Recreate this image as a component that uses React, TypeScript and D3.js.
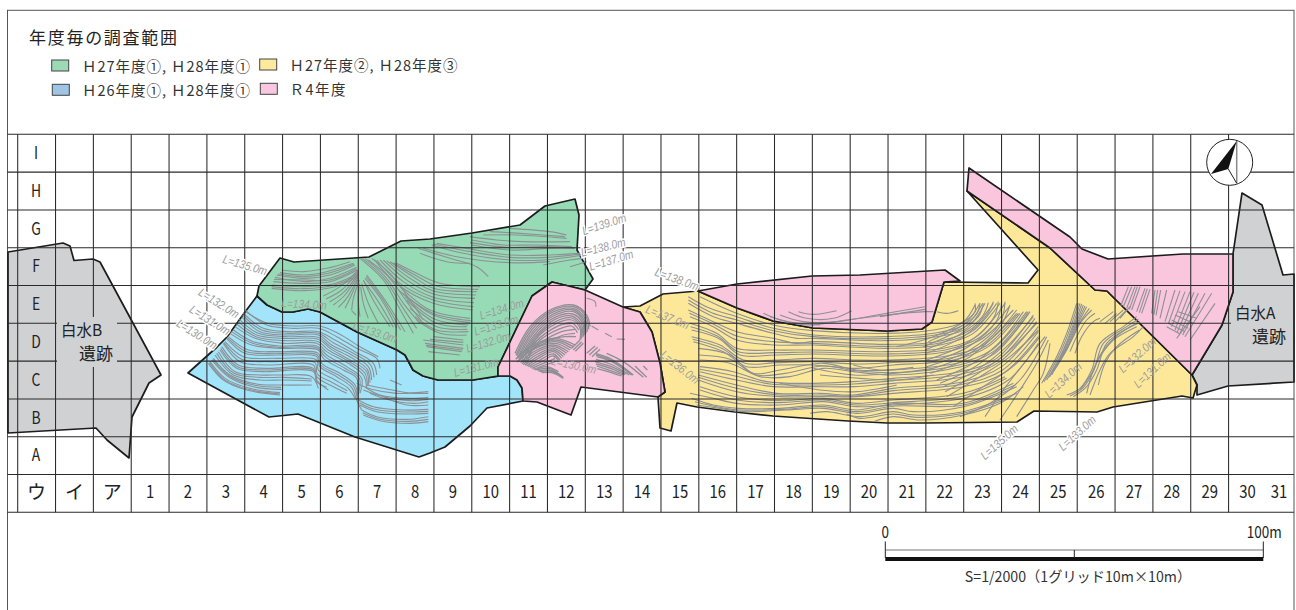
import React from "react";
import * as d3 from "d3";

type P = [number, number];

// ---- labels of the grid
const columnLabels = ["ウ", "イ", "ア", "1","2","3","4","5","6","7","8","9","10","11","12","13","14","15","16","17","18","19","20","21","22","23","24","25","26","27","28","29","30","31"];
const rowLabels = ["I", "H", "G", "F", "E", "D", "C", "B", "A"];

// ---- survey areas, sheet units
const siteB: P[] = [[-12,122],[43,113],[50,116],[54,130.5],[73,129],[80,132],[141,245],[129,253],[112,287],[109,328],[87,310],[76,298],[-12,303]];
const siteA: P[] = [[1222,63],[1242,75],[1263,145],[1274,144],[1274,252],[1208,256],[1177,265],[1177,255],[1172,245],[1202,195],[1213,162],[1213,124]];
const areaBlue: P[] = [[168,243],[197,217],[207,207],[225,182],[237,166],[247,175],[262,182],[273,182],[288,179],[300,182],[337,202],[377,220],[385,225],[393,240],[403,246],[410,248],[418,250],[453,250],[480,246],[490,246],[497,250],[502,258],[503,271],[467,278],[450,296],[425,317],[410,323],[399,327],[335,307],[278,284],[249,287]];
const areaGreen: P[] = [[237,166],[239,156],[260,128],[274,132],[349,127],[381,111],[410,109],[452,103],[500,95],[525,76],[555,69],[559,85],[557,120],[573,149],[565,160],[532,152],[512,166],[478,237],[478,246],[453,250],[418,250],[403,246],[393,240],[385,225],[377,220],[337,202],[300,182],[288,179],[273,182],[262,182],[247,175]];
const areaPinkWest: P[] = [[532,152],[565,160],[603,177],[620,182],[632,202],[640,233],[645,262],[638,267],[561,257],[551,285],[517,272],[503,271],[502,258],[497,250],[490,246],[478,246],[478,237],[512,166]];
const areaYellow: P[] = [[603,177],[620,176],[643,164],[678,161],[680,162],[717,178],[753,191],[793,198],[867,201],[902,199],[912,192],[924,152],[1008,153],[1018,140],[947,61],[1030,118],[1075,160],[1087,161],[1172,245],[1177,255],[1173,268],[1162,266],[1093,277],[1077,282],[1014,281],[997,292],[905,293],[867,293],[828,291],[753,286],[715,282],[677,277],[657,273],[651,301],[640,298],[638,267],[645,262],[640,233],[632,202],[620,182]];
const areaPinkMid: P[] = [[678,161],[717,154],[792,146],[840,145],[925,140],[940,151],[924,152],[912,192],[902,199],[867,201],[793,198],[753,191],[717,178]];
const areaPinkEast: P[] = [[949,38],[947,61],[1030,118],[1075,160],[1087,161],[1172,245],[1202,195],[1213,162],[1213,124],[1163,124],[1088,129],[1062,119],[1050,107]];

// ---- contours traced per tracing sheet
const contoursBlue: P[][] = [
[[195,30],[260,75],[340,85],[415,85],[470,110],[530,145],[590,175],[600,205]],
[[190,40],[250,85],[330,95],[415,95],[465,120],[525,155],[580,190],[590,225]],
[[185,50],[240,95],[320,105],[415,105],[455,135],[515,165],[565,200],[575,240]],
[[175,65],[230,105],[310,115],[415,118],[450,145],[510,180],[560,215],[565,255]],
[[165,80],[225,115],[310,130],[410,130],[440,155],[505,190],[550,225],[560,262]],
[[160,90],[220,125],[300,138],[410,138],[440,165],[500,200],[545,235],[540,280]],
[[150,100],[215,135],[300,145],[415,150],[430,175],[490,210],[530,235],[530,285]],
[[145,110],[205,150],[300,155],[415,160],[425,190],[480,220],[525,255],[535,300]],
[[140,115],[195,160],[300,165],[410,170],[420,200],[470,230],[515,262],[530,300],[545,330]],
[[135,125],[190,170],[290,175],[410,180],[415,210],[465,240],[505,265],[525,295]],
[[130,130],[180,185],[260,195],[400,195],[410,230],[450,255],[500,280]],
[[125,140],[175,195],[260,205],[400,205],[410,240],[445,270]],
[[120,150],[170,205],[250,215],[400,215],[410,250]],
[[115,155],[165,215],[240,225],[310,225],[395,230],[415,265]],
[[105,165],[160,225],[240,240],[310,240],[395,243]],
[[100,175],[150,225],[230,252],[300,255],[395,255]],
[[95,180],[145,230],[220,260],[305,268]],
[[90,185],[135,235],[210,265],[300,278]],
[[85,190],[130,240],[200,270],[300,285]],
[[630,240],[665,255]],
[[560,255],[610,265],[700,280],[745,280]],
[[555,262],[600,285],[690,295],[745,292]],
[[570,280],[620,298],[700,310],[745,305]],
[[610,290],[680,315],[745,315]],
[[535,300],[580,320],[670,330],[745,328]],
[[540,315],[590,335],[680,342],[745,340]],
[[545,330],[590,350],[680,358],[745,350]],
[[550,345],[600,362],[690,370],[745,365]],
[[197,35],[262,70],[345,78],[420,78],[478,102],[540,140],[595,170]],
[[188,45],[245,90],[325,100],[415,100],[460,128],[520,160],[572,195],[582,232]],
[[178,58],[235,100],[315,110],[415,112],[452,140],[512,172],[562,208],[570,248]],
[[170,72],[228,110],[310,122],[412,124],[445,150],[508,185],[555,220],[562,258]],
[[155,95],[218,130],[300,142],[412,144],[435,170],[495,205],[538,235],[535,282]],
[[142,112],[200,155],[300,160],[412,165],[422,195],[475,225],[520,258],[532,298]],
[[132,128],[185,178],[270,185],[405,188],[412,222],[458,248],[502,272]],
[[122,145],[172,200],[255,210],[400,210],[410,245],[440,262]],
[[110,160],[162,220],[240,232],[310,232],[395,237]],
[[98,178],[148,228],[225,256],[303,262]],
[[88,188],[132,238],[205,268],[300,282]],
[[530,250],[575,268],[650,280],[745,275]],
[[550,270],[610,290],[690,302],[745,298]],
[[538,308],[585,328],[675,336],[745,334]],
[[548,338],[595,356],[685,364],[745,358]],
];
const contoursGreen: P[][] = [
[[95,150],[160,155],[230,145],[300,125]],
[[90,158],[160,165],[230,155],[310,130]],
[[80,165],[165,175],[240,165],[315,135]],
[[75,172],[170,185],[240,175],[320,142]],
[[70,185],[150,190],[240,185],[322,150]],
[[65,195],[160,200],[250,192],[325,160]],
[[65,205],[160,212],[255,200],[325,170]],
[[85,162],[165,170],[235,160],[312,132]],
[[72,178],[165,180],[240,180],[320,146]],
[[65,200],[160,206],[252,196],[325,165]],
[[325,150],[270,200],[220,228]],
[[325,155],[275,210],[228,237]],
[[325,160],[280,218],[238,246]],
[[325,165],[285,225],[250,255]],
[[325,170],[292,232],[265,262]],
[[325,175],[300,235],[285,265]],
[[328,180],[310,235],[305,270]],
[[305,272],[318,285]],
[[328,190],[325,245],[330,290]],
[[332,200],[340,250],[355,295]],
[[335,190],[355,250],[385,310]],
[[340,180],[375,250],[420,320]],
[[345,175],[395,240],[440,325]],
[[350,165],[405,240],[465,335]],
[[342,185],[385,245],[430,322]],
[[348,170],[400,240],[452,330]],
[[330,115],[400,180],[440,250],[490,340]],
[[337,115],[405,178],[450,250],[500,325]],
[[345,115],[410,175],[460,250],[510,310]],
[[355,120],[415,170],[470,245],[515,305]],
[[365,115],[420,160],[480,240],[520,300]],
[[440,130],[500,160],[570,190],[690,200]],
[[430,128],[495,165],[560,198],[685,208]],
[[420,125],[490,170],[550,205],[680,215]],
[[410,122],[480,175],[550,213],[678,225]],
[[400,120],[470,180],[550,222],[675,235]],
[[390,120],[460,185],[550,232],[672,248]],
[[380,120],[450,190],[550,240],[670,260]],
[[372,118],[445,195],[550,250],[668,270]],
[[450,200],[540,270],[660,295]],
[[445,210],[545,278],[662,302]],
[[460,220],[550,285],[660,308]],
[[465,230],[555,298],[655,315]],
[[470,240],[560,310],[650,320]],
[[480,265],[560,320],[652,328]],
[[495,290],[560,330],[655,335]],
[[500,300],[570,340],[650,345]],
[[550,350],[640,360]],
[[540,358],[640,367]],
[[520,360],[640,375]],
[[525,370],[640,385]],
[[528,376],[638,390]],
[[530,380],[635,395]],
[[535,395],[630,405]],
[[780,25],[900,35],[950,45]],
[[720,35],[810,40],[945,50]],
[[700,45],[800,45],[950,55]],
[[660,50],[740,60],[820,65],[960,65]],
[[665,60],[760,75],[860,75],[965,80]],
[[660,68],[770,82],[880,80],[970,83]],
[[665,75],[780,90],[900,85],[975,85]],
[[560,70],[650,85],[780,105],[900,105],[990,100]],
[[550,72],[645,92],[780,112],[890,112],[995,102]],
[[545,75],[640,100],[780,120],[880,120],[1000,105]],
[[520,85],[620,110],[780,128],[900,125]],
[[505,85],[600,115],[680,140],[715,170]],
[[510,100],[590,125],[660,130]],
[[880,135],[960,120],[1000,115]],
[[960,140],[1010,125]],
];
const contoursPinkWest: P[][] = [
[[45,190],[90,110],[150,60],[220,45],[260,75],[270,110]],
[[48,194],[92,115],[152,64],[220,50],[258,80],[266,118]],
[[50,198],[95,120],[155,68],[220,55],[255,85],[262,125]],
[[53,202],[98,125],[158,73],[220,60],[252,90],[258,130]],
[[55,205],[100,130],[160,78],[220,65],[250,95],[255,135]],
[[58,208],[103,135],[163,83],[218,72],[248,100],[250,140]],
[[60,210],[105,140],[165,88],[215,78],[245,105],[245,145]],
[[65,212],[105,145],[168,94],[215,84],[242,110],[242,148]],
[[70,215],[105,150],[170,100],[215,90],[240,115],[240,150]],
[[75,218],[108,155],[175,108],[215,98],[236,120]],
[[80,222],[110,160],[180,116],[215,108],[232,128]],
[[75,190],[112,150],[180,105],[225,100]],
[[85,195],[120,160],[185,125],[225,118]],
[[90,185],[130,162],[190,135],[225,130]],
[[100,175],[140,150],[195,140],[228,140]],
[[50,205],[90,170],[165,145],[225,165]],
[[47,208],[88,175],[165,150],[220,170]],
[[55,212],[95,178],[165,155],[215,175]],
[[52,216],[92,182],[165,160],[210,180]],
[[62,218],[100,186],[160,165],[205,185]],
[[66,221],[104,190],[160,170],[200,190]],
[[70,224],[108,195],[160,175],[195,195]],
[[75,226],[112,200],[160,180],[190,200]],
[[80,228],[115,205],[160,185],[185,205]],
[[85,230],[120,210],[160,192],[180,210]],
[[90,232],[125,215],[160,198],[178,215]],
[[95,235],[130,220],[165,206]],
[[100,238],[135,225],[165,215]],
[[105,240],[140,230],[175,245]],
[[110,240],[150,235],[180,255]],
[[115,243],[150,240],[185,258]],
[[120,245],[150,243],[190,262]],
[[125,248],[155,248],[190,265]],
[[215,175],[240,150]],[[220,180],[245,155]],[[226,184],[250,160]],
[[260,190],[285,168]],[[268,195],[293,172]],[[276,200],[300,178]],
[[285,190],[330,205],[400,255]],
[[288,195],[332,210],[398,255]],
[[290,200],[335,215],[395,255]],
[[288,208],[338,225],[388,255]],
[[285,215],[340,232],[380,252]],
[[288,222],[340,238],[375,254]],
[[290,228],[340,245],[370,255]],
[[292,236],[340,250],[365,258]],
[[320,190],[370,215],[430,262]],
[[405,228],[440,262]],[[430,228],[442,240]],
];
const contourDashesPinkWest: P[][] = [
[[260,25],[285,35],[288,50]],
[[275,108],[295,120]],
[[315,130],[335,140]],
[[350,147],[375,148]],
];
const contoursPinkMid: P[][] = [
[[250,100],[300,120],[380,135],[500,120],[620,105],[735,95],[760,95]],
[[300,105],[370,125],[470,125],[590,105],[735,80]],
[[325,95],[380,115],[460,115],[515,92]],
[[355,95],[400,103],[470,92]],
[[770,95],[800,100],[835,92]],
[[600,110],[735,88]],
[[270,110],[340,128],[420,135]],
];
const contoursYellowWest: P[][] = [
[[60,50],[170,100],[280,135],[400,152],[620,160],[760,150],[850,125],[885,75]],
[[25,50],[90,85],[170,110],[280,145],[400,165],[620,170],[760,160],[850,135],[900,70]],
[[25,60],[95,98],[170,120],[280,152],[400,170],[620,176],[765,165],[855,140],[908,70]],
[[25,70],[100,110],[170,130],[280,160],[350,175],[400,175],[620,182],[770,170],[860,145],[915,70]],
[[25,90],[100,125],[170,155],[280,175],[350,190],[400,185],[620,193],[770,185],[870,150],[940,70]],
[[28,100],[100,132],[170,168],[282,185],[400,190],[620,199],[775,190],[875,155],[950,70]],
[[30,110],[100,140],[170,180],[285,195],[400,195],[620,205],[780,195],[880,160],[960,70]],
[[30,130],[110,160],[170,205],[285,210],[400,210],[620,215],[790,205],[890,170],[975,70]],
[[32,140],[112,168],[175,215],[285,218],[400,216],[620,222],[795,210],[895,175],[988,80]],
[[35,150],[115,175],[180,225],[285,225],[400,222],[620,228],[800,215],[900,180],[1000,90]],
[[35,170],[120,195],[190,240],[285,240],[400,235],[530,240],[620,240],[800,228],[910,195],[1010,100]],
[[38,178],[125,205],[195,250],[290,248],[400,245],[530,252],[630,248],[810,234],[918,198],[1015,100]],
[[40,185],[130,215],[200,260],[300,255],[400,255],[530,265],[640,255],[820,240],[925,200],[1020,100]],
[[55,205],[150,225],[220,280],[300,270],[430,250],[530,270],[640,270],[830,250],[935,210],[1040,95]],
[[58,225],[150,238],[230,285],[315,280],[430,258],[525,272],[640,278],[832,256],[940,215],[1045,95]],
[[60,240],[150,250],[240,290],[330,290],[430,265],[520,275],[640,285],[835,262],[945,220],[1050,95]],
[[60,260],[160,275],[260,305],[400,310],[520,305],[640,295],[840,275],[950,235],[1060,105]],
[[60,268],[165,288],[270,312],[400,315],[520,312],[640,302],[845,282],[955,240],[1065,115]],
[[60,275],[170,300],[280,320],[400,320],[520,320],[640,310],[850,290],[960,245],[1070,125]],
[[55,285],[170,315],[290,340],[420,340],[520,345],[640,325],[850,305],[965,260],[1075,140]],
[[55,292],[170,325],[295,345],[420,345],[525,348],[640,332],[850,312],[968,270],[1075,155]],
[[55,300],[170,335],[300,350],[420,350],[530,350],[640,340],[850,320],[970,280],[1075,170]],
[[60,320],[170,350],[300,362],[430,355],[530,370],[640,360],[850,340],[975,290]],
[[60,330],[170,360],[300,368],[430,360],[530,375],[640,368],[850,348],[980,295]],
[[30,340],[100,355],[170,370],[300,375],[430,365],[530,380],[640,375],[850,355],[985,300],[1075,190]],
[[35,355],[100,375],[175,385],[300,385],[430,375],[530,390],[650,370],[850,370],[1000,310]],
[[45,365],[110,380],[180,390],[310,388],[430,380],[530,395],[645,378],[850,375],[1005,315]],
[[50,375],[120,385],[190,395],[320,390],[430,385],[530,400],[640,385],[700,395],[850,380],[1010,320]],
[[390,400],[440,395],[540,410],[640,395],[700,405],[850,395],[1010,340]],
[[500,402],[540,415],[640,402],[710,412],[850,400],[985,355]],
[[580,425],[640,410],[720,420],[850,405],[960,370],[1030,320]],
[[400,265],[520,285],[640,280],[760,265]],
[[420,285],[540,295],[650,300],[760,285]],
[[300,310],[420,330],[530,335],[650,315]],
[[520,255],[600,270],[700,262]],
];
const contoursYellowEast: P[][] = [
[[375,860],[430,780],[500,690],[555,620]],
[[420,870],[480,780],[530,700],[565,630]],
[[470,860],[520,780],[550,730],[570,640]],
[[345,520],[345,545],[320,570],[220,620],[110,650]],
[[360,520],[350,552],[310,585],[205,635]],
[[370,520],[355,560],[300,600],[190,650]],
[[385,518],[368,558],[305,610],[195,660]],
[[400,515],[380,555],[310,620],[200,670]],
[[415,515],[400,565],[320,640],[200,690]],
[[425,515],[410,572],[325,650],[200,700]],
[[435,515],[420,580],[330,660],[200,710]],
[[450,525],[420,590],[330,670],[205,720]],
[[470,540],[420,600],[330,680],[210,730]],
[[490,545],[430,625],[340,700],[230,750]],
[[505,552],[435,638],[345,710],[240,760]],
[[520,560],[440,650],[350,720],[250,770]],
[[530,580],[445,665],[355,730],[255,785]],
[[535,600],[450,680],[360,740],[260,800]],
[[540,620],[470,700],[370,770],[280,830]],
[[560,620],[480,750],[390,820],[300,860]],
[[545,760],[590,680],[620,610],[650,520]],
[[552,755],[595,680],[625,610],[655,520]],
[[560,750],[600,680],[630,610],[660,520]],
[[568,742],[605,675],[635,605],[665,522]],
[[575,735],[610,670],[640,600],[670,525]],
[[582,722],[618,660],[645,595],[675,528]],
[[590,710],[625,650],[650,590],[680,530]],
[[600,690],[632,635],[655,585],[688,535]],
[[610,670],[640,620],[660,580],[695,540]],
[[630,665],[650,620],[680,570],[705,550]],
[[645,670],[665,620],[700,575],[720,565]],
[[620,795],[660,775],[695,720],[720,640],[790,590],[830,560]],
[[630,798],[670,772],[702,720],[730,640],[800,590],[835,568]],
[[640,800],[680,770],[710,720],[740,640],[810,590],[840,575]],
[[660,780],[695,730],[720,680],[760,630],[830,590]],
[[680,790],[700,720],[730,660],[780,610],[835,580]],
[[690,795],[720,720],[750,670],[820,620],[850,590]],
[[715,765],[735,700],[770,650],[838,600]],
[[720,575],[760,545]],[[735,580],[770,550]],[[750,575],[790,540]],[[765,575],[800,540]],[[780,565],[810,530]],
];
const contoursPinkEast: P[][] = [
[[782,528],[805,470]],[[790,530],[815,470]],[[800,535],[825,470]],[[808,538],[832,470]],[[815,540],[840,470]],[[830,545],[855,475]],[[838,548],[862,476]],[[845,550],[870,478]],
[[875,550],[885,480]],[[882,553],[893,480]],[[888,556],[902,480]],[[900,565],[920,480]],[[915,575],[945,480]],[[925,582],[960,482]],[[935,590],[975,485]],
[[945,600],[990,485]],[[952,606],[1002,487]],[[960,610],[1015,490]],[[968,615],[1035,490]],[[975,620],[1055,490]],[[990,630],[1065,520]],[[950,625],[1020,530]],
[[920,590],[960,612]],[[925,580],[975,605]],[[935,570],[985,595]],[[945,555],[1000,580]],[[955,545],[1010,565]],
];

// ---- contour elevation labels: text, centre and slope in sheet units
const elevText = ["L=135.0m","L=132.0m","L=131.0m","L=130.0m","L=134.0m","L=133.0m","L=134.0m","L=133.0m","L=132.0m","L=131.0m","L=130.0m","L=139.0m","L=138.0m","L=137.0m","L=138.0m","L=137.0m","L=136.0m","L=135.0m","L=133.0m","L=134.0m","L=132.0m","L=131.0m"];
const elevAt: P[] = [[225,135],[199,173],[190,190],[177,204],[284,174],[355,202],[481.5,179],[476,195],[468,212],[456,237],[554,235],[584,94],[583,117],[591,130],[657,149],[647.5,187],[660,237],[979,312],[1057,303],[1043,250],[1117,225],[1132,240]];
const elevSlope = [16,32,32,32,3,18,-17,-17,-17,-15,12,-18,-14,-17,20,22,38,-42,-42,-43,-42,-43];
const elevHalo = [true,true,true,true,false,false,false,false,false,false,false,true,true,true,true,false,false,true,true,false,false,false];

// ---- legend and text
const legendLabels = ["Ｈ27年度①, Ｈ28年度①","Ｈ26年度①, Ｈ28年度①","Ｈ27年度②, Ｈ28年度③","Ｒ4年度"];
const legendColors = ["#9cdab6","#9fc4e4","#fee99f","#f9c7df"];
const titleText = "年度毎の調査範囲";
const scaleTicks = [0, 50, 100];
const scaleCaption = "S=1/2000（1グリッド10m×10m）";

const JP = '"Noto Sans CJK JP", sans-serif';
const W = 1296, H = 610;

const sx = d3.scaleLinear().domain([0, 1276]).range([20, 1296]);
const sy = d3.scaleLinear().domain([0, 480]).range([130, 610]);
const colX = d3.scaleLinear().domain([0, 33]).range([17.7, 17.7 + 33 * 37.84]);
const rowY = d3.scaleLinear().domain([0, 10]).range([134.3, 512.3]);
const barX = d3.scaleLinear().domain([0, 100]).range([885.3, 1263.3]);

function areaPath(points: P[]) {
  return d3.line<P>().x(d => sx(d[0])).y(d => sy(d[1]))(points) + "Z";
}
function tracer(ox: number, oy: number) {
  const tx = d3.scaleLinear().domain([0, 3]).range([ox, ox + 1]);
  const ty = d3.scaleLinear().domain([0, 3]).range([oy, oy + 1]);
  return d3.line<P>().x(d => tx(d[0])).y(d => ty(d[1])).curve(d3.curveCatmullRom.alpha(0.5));
}
function Contours({ lines, origin, dash, width = 1.1 }: { lines: P[][]; origin: P; dash?: string; width?: number }) {
  const gen = tracer(origin[0], origin[1]);
  return <g fill="none" stroke="#8d9094" strokeWidth={width} strokeDasharray={dash}>{lines.map((l, i) => <path key={i} d={gen(l) as string} />)}</g>;
}
function Area({ points, fill, outline = true }: { points: P[]; fill: string; outline?: boolean }) {
  return <path d={areaPath(points)} fill={fill} stroke={outline ? "#1c1c1c" : "none"} strokeWidth={1.7} strokeLinejoin="round" />;
}
function NarrowText({ x, y, children, size, sxf = 0.82, fill = "#222", weight = 400 }: any) {
  return <text transform={`translate(${x},${y}) scale(${sxf},1)`} textAnchor="middle" dominantBaseline="central" fontFamily={JP} fontSize={size} fill={fill} fontWeight={weight}>{children}</text>;
}

export default function App() {
  const colLines = d3.range(0, 33);
  const rowLines = d3.range(0, 11);
  return (
    <svg width={W} height={H} style={{ position: "absolute", left: 0, top: 0, display: "block", background: "#fff" }}>
      <rect x={7.5} y={10.3} width={1286.5} height={620} fill="#fff" stroke="#555" strokeWidth={1} />

      {/* title + legend */}
      <text x={29} y={36} dominantBaseline="central" fontFamily={JP} fontSize={17} fill="#222" textLength={148}>{titleText}</text>
      {legendLabels.map((t, i) => {
        const left = i < 2;
        const r = [[51.7, 60], [52.3, 84.3], [259.7, 59], [260.3, 83.3]][i];
        const tx = left ? 82 : 289.5;
        const ty = [65.5, 89.5, 64.5, 88.5][i];
        return (
          <g key={t + i}>
            <rect x={r[0]} y={r[1]} width={17} height={11} fill={legendColors[i]} stroke="#444" strokeWidth={1} />
            <text x={tx} y={ty} dominantBaseline="central" fontFamily={JP} fontSize={14.5} fill="#333"
              textLength={i === 3 ? 56 : 168} lengthAdjust="spacing">{t}</text>
          </g>
        );
      })}

      {/* fills */}
      <Area points={siteB} fill="#d0d1d3" />
      <Area points={siteA} fill="#d0d1d3" />
      <Area points={areaBlue} fill="#a2e4f9" />
      <Area points={areaGreen} fill="#97dbb6" />
      <Area points={areaYellow} fill="#fde89a" />
      <Area points={areaPinkWest} fill="#fac6dd" />
      <Area points={areaPinkMid} fill="#fac6dd" />
      <Area points={areaPinkEast} fill="#fac6dd" />

      {/* contours */}
      <Contours lines={contoursBlue} origin={[180, 300]} />
      <Contours lines={contoursGreen} origin={[250, 220]} />
      <Contours lines={contoursPinkWest} origin={[500, 290]} width={1.3} />
      <Contours lines={contourDashesPinkWest} origin={[500, 290]} />
      <Contours lines={contoursPinkMid} origin={[680, 280]} />
      <Contours lines={contoursYellowWest} origin={[680, 280]} />
      <Contours lines={contoursYellowEast} origin={[860, 130]} />
      <Contours lines={contoursPinkEast} origin={[860, 130]} />

      {/* grid */}
      <g stroke="#2a2a2a" strokeWidth={1.05}>
        {colLines.map(i => <line key={i} x1={colX(i)} x2={colX(i)} y1={rowY(0)} y2={rowY(10)} />)}
        {rowLines.map(i => <line key={i} x1={7.5} x2={1294} y1={rowY(i)} y2={rowY(i)} />)}
      </g>

      {/* patches behind site names */}
      <rect x={57} y={317} width={60} height={50} fill="#d0d1d3" />
      <rect x={1231} y={301} width={62} height={47} fill="#d0d1d3" />
      <text x={61} y={329} dominantBaseline="central" fontFamily={JP} fontSize={15.5} fill="#222">白水B</text>
      <text x={79} y={352} dominantBaseline="central" fontFamily={JP} fontSize={17} fill="#222">遺跡</text>
      <text x={1235} y={312} dominantBaseline="central" fontFamily={JP} fontSize={15.5} fill="#222">白水A</text>
      <text x={1252} y={335} dominantBaseline="central" fontFamily={JP} fontSize={17} fill="#222">遺跡</text>

      {/* elevation labels */}
      {elevText.map((t, i) => (
        <text key={i} transform={`translate(${sx(elevAt[i][0])},${sy(elevAt[i][1])}) rotate(${elevSlope[i]}) scale(0.85,1)`}
          textAnchor="middle" dominantBaseline="central" fontFamily="'Liberation Sans', sans-serif" fontSize={12} fontStyle="italic"
          fill="#9c9c9e" stroke={elevHalo[i] ? "#fff" : "none"} strokeWidth={elevHalo[i] ? 3 : 0} paintOrder="stroke">{t}</text>
      ))}

      {/* grid labels */}
      {rowLabels.map((t, i) => <NarrowText key={t} x={36} y={rowY(i + 0.5) - 1.8} size={17}>{t}</NarrowText>)}
      {columnLabels.map((t, i) => {
        const center = i === 33 ? 1279 : colX(i + 0.5);
        return <NarrowText key={t} x={center} y={rowY(9.5) - 2.5} size={i < 3 ? 19 : 17.5} sxf={i < 3 ? 1 : 0.85}>{t}</NarrowText>;
      })}

      {/* north arrow */}
      <g>
        <circle cx={1229.7} cy={162.3} r={23} fill="#fff" stroke="#222" strokeWidth={1} />
        <line x1={1236.7} y1={141} x2={1236.7} y2={183.3} stroke="#888" strokeWidth={1.5} />
        <path d="M1236.7,141 L1211,174 L1228.3,169 Z" fill="#111" />
        <line x1={1228.3} y1={169} x2={1236.7} y2={183.3} stroke="#222" strokeWidth={1} />
      </g>

      {/* scale bar */}
      <g>
        <line x1={barX(0)} x2={barX(100)} y1={550} y2={550} stroke="#777" strokeWidth={1.2} />
        <rect x={barX(0)} y={557} width={barX(100) - barX(0)} height={4} fill="#111" />
        {scaleTicks.map(t => <line key={t} x1={barX(t)} x2={barX(t)} y1={t === 50 ? 550 : 541.5} y2={558} stroke="#222" strokeWidth={1} />)}
        <NarrowText x={barX(0)} y={530.5} size={16.5}>0</NarrowText>
        <NarrowText x={barX(100) + 1} y={530.5} size={16.5}>100m</NarrowText>
        <NarrowText x={1078} y={575.5} size={14.5} sxf={0.98} fill="#333">{scaleCaption}</NarrowText>
      </g>
    </svg>
  );
}
